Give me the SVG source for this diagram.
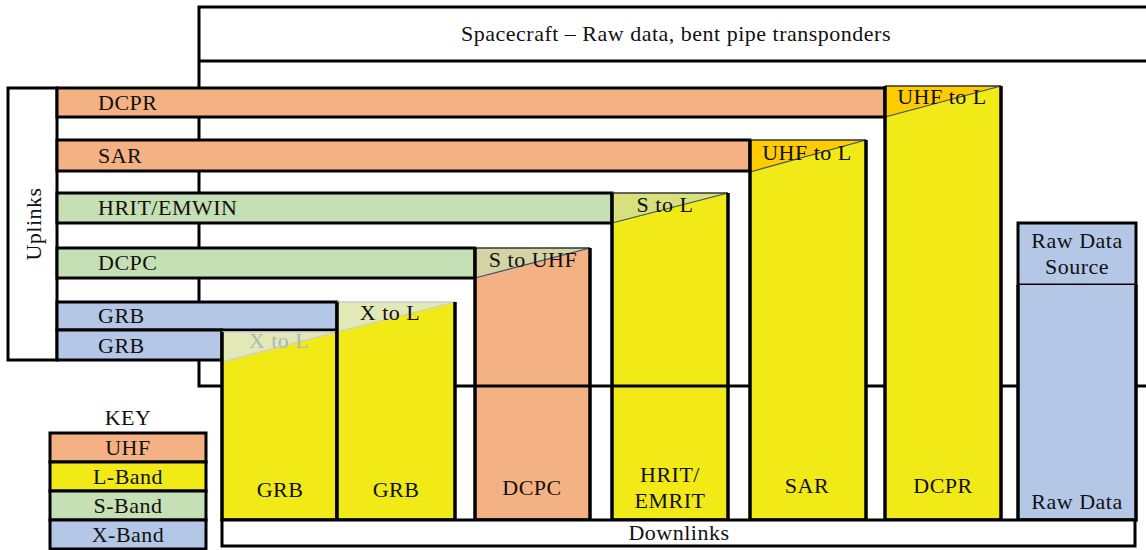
<svg xmlns="http://www.w3.org/2000/svg" width="1146" height="550" viewBox="0 0 1146 550">
<style>
text{font-family:"Liberation Serif","Times New Roman",serif;font-size:22px;letter-spacing:0.5px;fill:#111}
.b{stroke:#000;stroke-width:3}
.uhf{fill:#F4B183}
.lb{fill:#F2EA16}
.sb{fill:#C5E0B4}
.xb{fill:#B4C7E7}
.w{fill:#fff}
.c{text-anchor:middle}
.edge{fill:none;stroke:#000;stroke-width:3.5}
.top{stroke:#333;stroke-width:1.5}
.diag{stroke:#36506E;stroke-width:1.2}
</style>
<rect width="1146" height="550" fill="#fff"/>
<g id="spacecraft">
<rect class="b w" x="199" y="7" width="960" height="379"/>
<line class="b" x1="199" y1="61" x2="1160" y2="61"/>
<text class="c" x="676" y="41">Spacecraft – Raw data, bent pipe transponders</text>
</g>
<g id="uplinks">
<rect class="b w" x="8" y="88" width="49" height="272"/>
<text class="c" transform="translate(41,224) rotate(-90)">Uplinks</text>
</g>
<g id="up-dcpr"><rect class="b uhf" x="57" y="88" width="828" height="29"/><text x="98" y="110">DCPR</text></g>
<g id="up-sar"><rect class="b uhf" x="57" y="140" width="693" height="31"/><text x="98" y="163">SAR</text></g>
<g id="up-hrit"><rect class="b sb" x="57" y="193" width="555" height="30"/><text x="98" y="215">HRIT/EMWIN</text></g>
<g id="up-dcpc"><rect class="b sb" x="57" y="248" width="418" height="30"/><text x="98" y="270">DCPC</text></g>
<g id="up-grb1"><rect class="b xb" x="57" y="302" width="280" height="28"/><text x="98" y="323">GRB</text></g>
<g id="up-grb2"><rect class="b xb" x="57" y="330" width="165" height="30"/><text x="98" y="353">GRB</text></g>

<g id="down-grb1">
<rect class="lb" x="222" y="332" width="115" height="188"/>
<polygon points="222,332 337,332 222,362" fill="#E2E8B6"/>
<line x1="222" y1="362" x2="337" y2="332" stroke="#C4CCD4" stroke-width="1.2"/>
<line x1="222" y1="332" x2="337" y2="332" stroke="#C4CCD4" stroke-width="1.5"/>
<path class="edge" d="M222,332 V520 H337 V332"/>
<text class="c" x="279" y="348" style="fill:#B0B6BE">X to L</text>
<text class="c" x="280" y="497">GRB</text>
</g>
<g id="down-grb2">
<rect class="lb" x="337" y="302" width="118" height="218"/>
<polygon points="337,302 455,302 337,332" fill="#E2E8B6"/>
<line x1="337" y1="332" x2="455" y2="302" stroke="#C4CCD4" stroke-width="1.2"/>
<line x1="337" y1="302" x2="455" y2="302" stroke="#C4CCD4" stroke-width="1.5"/>
<path class="edge" d="M337,302 V520 H455 V302"/>
<text class="c" x="390" y="320">X to L</text>
<text class="c" x="396" y="497">GRB</text>
</g>
<g id="down-dcpc">
<rect class="uhf" x="475" y="248" width="115" height="272"/>
<polygon points="475,248 590,248 475,278" fill="#D3D3A3"/>
<line class="diag" x1="475" y1="278" x2="590" y2="248"/>
<line class="top" x1="475" y1="248" x2="590" y2="248"/>
<path class="edge" d="M475,248 V520 H590 V248"/>
<line class="b" x1="475" y1="386" x2="590" y2="386"/>
<text class="c" x="533" y="267">S to UHF</text>
<text class="c" x="532" y="495">DCPC</text>
</g>
<g id="down-hrit">
<rect class="lb" x="612" y="193" width="116" height="327"/>
<polygon points="612,193 728,193 612,223" fill="#D8E07E"/>
<line class="diag" x1="612" y1="223" x2="728" y2="193"/>
<line class="top" x1="612" y1="193" x2="728" y2="193"/>
<path class="edge" d="M612,193 V520 H728 V193"/>
<line class="b" x1="612" y1="386" x2="728" y2="386"/>
<text class="c" x="665" y="212">S to L</text>
<text class="c" x="670" y="482">HRIT/</text>
<text class="c" x="670" y="508">EMRIT</text>
</g>
<g id="down-sar">
<rect class="lb" x="750" y="140" width="116" height="380"/>
<polygon points="750,140 866,140 750,172" fill="#FFCC00"/>
<line class="diag" x1="750" y1="172" x2="866" y2="140"/>
<line class="top" x1="750" y1="140" x2="866" y2="140"/>
<path class="edge" d="M750,140 V520 H866 V140"/>
<text class="c" x="807" y="160">UHF to L</text>
<text class="c" x="807" y="493">SAR</text>
</g>
<g id="down-dcpr">
<rect class="lb" x="885" y="86" width="116" height="434"/>
<polygon points="885,86 1001,86 885,117" fill="#FFCC00"/>
<line class="diag" x1="885" y1="117" x2="1001" y2="86"/>
<line class="top" x1="885" y1="86" x2="1001" y2="86"/>
<path class="edge" d="M885,86 V520 H1001 V86"/>
<text class="c" x="942" y="104">UHF to L</text>
<text class="c" x="943" y="493">DCPR</text>
</g>
<g id="raw-source">
<rect class="b xb" x="1018" y="223" width="118" height="62"/>
<text class="c" x="1077" y="248">Raw Data</text>
<text class="c" x="1077" y="274">Source</text>
</g>
<g id="raw-data">
<rect class="xb" x="1018" y="285" width="118" height="235"/>
<path class="edge" d="M1018,285 V520 H1136 V285"/>
<text class="c" x="1077" y="509">Raw Data</text>
</g>
<g id="downlinks">
<rect class="b w" x="222" y="520" width="913" height="26"/>
<text class="c" x="679" y="540">Downlinks</text>
</g>
<g id="key">
<text class="c" x="128" y="425">KEY</text>
<rect class="b uhf" x="50" y="433" width="156" height="29"/>
<rect class="b lb" x="50" y="462" width="156" height="29"/>
<rect class="b sb" x="50" y="491" width="156" height="29"/>
<rect class="b xb" x="50" y="520" width="156" height="29"/>
<text class="c" x="128" y="455">UHF</text>
<text class="c" x="128" y="484">L-Band</text>
<text class="c" x="128" y="513">S-Band</text>
<text class="c" x="128" y="542">X-Band</text>
</g>
<g id="connectors"></g>
</svg>
